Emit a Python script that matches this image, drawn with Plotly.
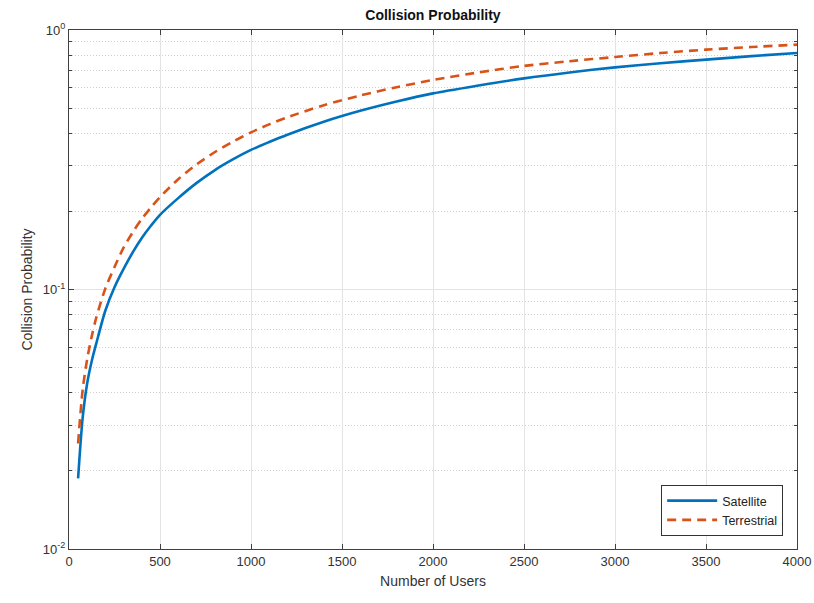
import plotly.graph_objects as go

# Number of users
users = [50, 75, 100, 125, 150, 200, 250, 300, 350, 400, 450, 500, 600, 700,
         800, 900, 1000, 1100, 1200, 1400, 1600, 1800, 2000, 2250, 2500,
         2750, 3000, 3250, 3500, 3750, 4000]

# Collision probability, satellite scenario
p_satellite = [0.0187, 0.032, 0.0435, 0.053, 0.062, 0.083, 0.102, 0.120,
               0.139, 0.158, 0.176, 0.194, 0.225, 0.257, 0.288, 0.317,
               0.345, 0.370, 0.395, 0.443, 0.488, 0.530, 0.570, 0.611,
               0.651, 0.686, 0.718, 0.745, 0.769, 0.793, 0.815]

# Collision probability, terrestrial scenario
p_terrestrial = [0.0255, 0.041, 0.054, 0.066, 0.078, 0.101, 0.122, 0.145,
                 0.166, 0.187, 0.207, 0.227, 0.266, 0.303, 0.338, 0.371,
                 0.403, 0.433, 0.461, 0.513, 0.559, 0.602, 0.642, 0.686,
                 0.727, 0.758, 0.787, 0.815, 0.840, 0.860, 0.878]

x_ticks = [0, 500, 1000, 1500, 2000, 2500, 3000, 3500, 4000]
y_ticks = [0.01, 0.1, 1]
y_ticktext = ["10<sup>-2</sup>", "10<sup>-1</sup>", "10<sup>0</sup>"]

FONT = "Liberation Sans, Arial, sans-serif"
AXIS = "#404040"

fig = go.Figure()
fig.add_trace(go.Scatter(
    x=users, y=p_satellite, mode="lines", name="Satellite",
    line=dict(color="#0072BD", width=2.6, shape="spline", smoothing=0.8),
))
fig.add_trace(go.Scatter(
    x=users, y=p_terrestrial, mode="lines", name="Terrestrial",
    line=dict(color="#D95319", width=2.6, dash="9px,6px",
              shape="spline", smoothing=0.8),
))

fig.update_layout(
    width=814, height=603,
    margin=dict(l=69, r=17, t=30, b=54, autoexpand=False),
    paper_bgcolor="white", plot_bgcolor="white",
    font=dict(family=FONT, size=13, color="#333333"),
    title=dict(text="<b>Collision Probability</b>", x=(69 + 797) / 2 / 814,
               xanchor="center", y=1 - 15 / 603, yanchor="middle",
               font=dict(size=14, color="#111111")),
    legend=dict(x=0.981, y=0.025, xanchor="right", yanchor="bottom",
                bgcolor="white", bordercolor="#333333", borderwidth=1,
                font=dict(size=12.5, color="#222222"),
                itemwidth=50, tracegroupgap=0),
    showlegend=True,
)

fig.update_xaxes(
    range=[0, 4000], tickvals=x_ticks, automargin=False,
    title=dict(text="Number of Users", font=dict(size=14, color="#333333"),
               standoff=8),
    showgrid=True, gridcolor="#E3E3E3", gridwidth=1,
    showline=True, linecolor=AXIS, linewidth=1, mirror="ticks",
    ticks="inside", ticklen=5, tickcolor=AXIS, zeroline=False,
)
fig.update_yaxes(
    type="log", range=[-2, 0], tickvals=y_ticks, ticktext=y_ticktext,
    automargin=False,
    title=dict(text="Collision Probability",
               font=dict(size=14, color="#333333"), standoff=6),
    showgrid=True, gridcolor="#E3E3E3", gridwidth=1,
    showline=True, linecolor=AXIS, linewidth=1, mirror="ticks",
    ticks="inside", ticklen=5, tickcolor=AXIS, zeroline=False,
    minor=dict(dtick="D1", showgrid=True, gridcolor="#D0D0D0",
               griddash="1px,2px", ticks="inside", ticklen=3,
               tickcolor=AXIS),
)

fig.write_html("out.html")
